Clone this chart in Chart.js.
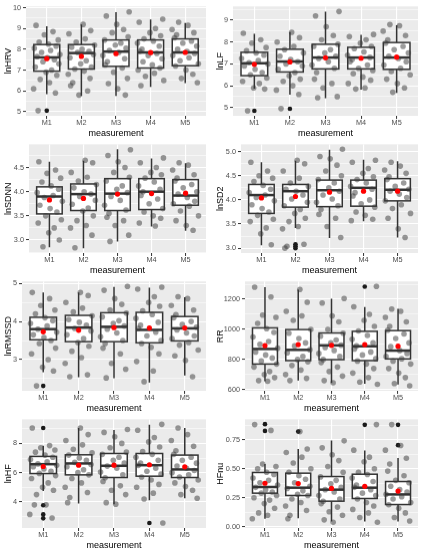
<!DOCTYPE html>
<html lang="en">
<head>
  <meta charset="UTF-8" />
  <title>HRV indices by measurement</title>
  <style>
    body { margin: 0; background: #fff; }
    #grid { display: grid; grid-template-columns: 212px 212px; grid-template-rows: repeat(4, 137.5px); width: 424px; height: 550px; }
    .panel { position: relative; width: 212px; height: 137.5px; }
  </style>
  <script src="https://cdn.jsdelivr.net/npm/chart.js"></script>
</head>
<body>
  <div id="grid">
    <div class="panel"><canvas id="c0"></canvas></div>
    <div class="panel"><canvas id="c1"></canvas></div>
    <div class="panel"><canvas id="c2"></canvas></div>
    <div class="panel"><canvas id="c3"></canvas></div>
    <div class="panel"><canvas id="c4"></canvas></div>
    <div class="panel"><canvas id="c5"></canvas></div>
    <div class="panel"><canvas id="c6"></canvas></div>
    <div class="panel"><canvas id="c7"></canvas></div>
  </div>

  <script>
    const CATS = ['M1', 'M2', 'M3', 'M4', 'M5'];
    // horizontal jitter offsets (in category units), reused per group
    const JIT = [-0.31, 0.18, -0.07, 0.33, -0.22, 0.05, 0.27, -0.36, 0.11, -0.15, 0.38, -0.28, 0.02,
                 0.22, -0.11, 0.35, -0.33, 0.14, -0.02, 0.29, -0.19, 0.08, -0.38, 0.25, -0.25];

    // box stats per group: [lower whisker, q1, median, q3, upper whisker]
    const HRV_TICKS = ['5', '6', '7', '8', '9', '10'];
    const HRV_STATS = [[5.84, 6.95, 7.61, 8.23, 9.11], [5.76, 7.05, 7.82, 8.23, 9.19], [5.76, 7.18, 7.89, 8.45, 9.79], [6.19, 7.1, 7.85, 8.45, 9.44], [6.37, 7.21, 7.85, 8.5, 9.27]];
    const HRV_MEAN = [7.55, 7.66, 7.79, 7.84, 7.85];
    const HRV_OUT = [[5.05], [], [], [], []];
    const HRV_PTS = [
      [9.15, 8.85, 8.7, 8.45, 8.35, 8.25, 8.15, 8.05, 7.95, 7.85, 7.75, 7.65, 7.6, 7.5, 7.4, 7.3, 7.15, 7.0, 6.9, 6.75, 6.55, 6.4, 6.1, 5.9, 5.05],
      [9.2, 8.9, 8.75, 8.5, 8.35, 8.2, 8.1, 8.0, 7.9, 7.85, 7.75, 7.6, 7.45, 7.3, 7.15, 7.05, 6.95, 6.8, 6.6, 6.4, 6.25, 6.0, 5.8],
      [9.8, 9.6, 9.2, 8.95, 8.8, 8.6, 8.45, 8.3, 8.2, 8.05, 7.95, 7.85, 7.7, 7.55, 7.4, 7.25, 7.1, 6.9, 6.6, 6.35, 6.1, 5.8],
      [9.45, 9.3, 9.0, 8.8, 8.65, 8.5, 8.4, 8.3, 8.15, 8.0, 7.9, 7.8, 7.7, 7.55, 7.4, 7.25, 7.1, 7.0, 6.85, 6.7, 6.5, 6.25],
      [9.3, 9.15, 8.95, 8.8, 8.7, 8.55, 8.4, 8.3, 8.15, 8.0, 7.9, 7.8, 7.7, 7.6, 7.45, 7.3, 7.2, 7.0, 6.8, 6.6, 6.4]
    ];

    const LF_TICKS = ['5', '6', '7', '8', '9'];
    const LF_STATS = [[5.87, 6.46, 7.03, 7.53, 8.38], [5.59, 6.63, 7.11, 7.67, 8.46], [5.43, 6.77, 7.29, 7.9, 9.39], [5.82, 6.77, 7.29, 7.76, 8.33], [5.67, 6.75, 7.29, 7.98, 8.77]];
    const LF_MEAN = [6.98, 7.09, 7.28, 7.26, 7.31];
    const LF_OUT = [[4.85], [4.94], [], [], []];
    const LF_PTS = [
      [8.4, 8.1, 7.95, 7.75, 7.6, 7.5, 7.4, 7.25, 7.15, 7.05, 7.0, 6.9, 6.75, 6.6, 6.5, 6.35, 6.2, 6.1, 5.9, 5.85, 4.85],
      [8.45, 8.2, 8.0, 7.8, 7.65, 7.5, 7.35, 7.2, 7.1, 7.0, 6.9, 6.75, 6.6, 6.45, 6.3, 6.2, 6.0, 5.8, 5.6, 4.95],
      [9.4, 9.2, 8.7, 8.3, 8.1, 7.9, 7.8, 7.65, 7.5, 7.35, 7.25, 7.1, 6.95, 6.8, 6.6, 6.3, 6.1, 5.9, 5.5, 5.45],
      [8.35, 8.25, 8.1, 7.95, 7.8, 7.7, 7.55, 7.4, 7.3, 7.2, 7.1, 6.95, 6.8, 6.7, 6.55, 6.4, 6.25, 6.1, 5.9, 5.85],
      [8.8, 8.75, 8.5, 8.3, 8.1, 7.95, 7.8, 7.65, 7.5, 7.35, 7.25, 7.1, 6.95, 6.8, 6.65, 6.5, 6.3, 6.1, 5.9, 5.7]
    ];

    const SDNN_TICKS = ['3.0', '3.5', '4.0', '4.5'];
    const SDNN_STATS = [[2.85, 3.54, 3.9, 4.1, 4.62], [2.83, 3.61, 3.95, 4.16, 4.64], [2.97, 3.61, 3.96, 4.27, 4.88], [3.28, 3.63, 4.0, 4.27, 4.69], [3.19, 3.72, 3.92, 4.25, 4.59]];
    const SDNN_MEAN = [3.83, 3.86, 3.95, 3.96, 3.97];
    const SDNN_OUT = [[], [], [], [], []];
    const SDNN_PTS = [
      [4.62, 4.45, 4.38, 4.28, 4.2, 4.12, 4.05, 3.98, 3.92, 3.88, 3.8, 3.72, 3.65, 3.58, 3.5, 3.42, 3.35, 3.25, 3.15, 3.0, 2.86],
      [4.65, 4.6, 4.4, 4.3, 4.22, 4.15, 4.08, 4.0, 3.95, 3.9, 3.82, 3.74, 3.66, 3.6, 3.5, 3.4, 3.3, 3.25, 3.1, 2.84],
      [4.87, 4.75, 4.62, 4.5, 4.4, 4.3, 4.22, 4.12, 4.05, 3.98, 3.9, 3.82, 3.72, 3.62, 3.55, 3.47, 3.4, 3.3, 3.1, 2.97],
      [4.7, 4.6, 4.5, 4.4, 4.35, 4.28, 4.2, 4.12, 4.05, 4.0, 3.92, 3.85, 3.75, 3.65, 3.58, 3.5, 3.45, 3.35, 3.29],
      [4.6, 4.55, 4.45, 4.35, 4.28, 4.22, 4.15, 4.08, 4.0, 3.95, 3.88, 3.8, 3.75, 3.7, 3.6, 3.5, 3.4, 3.3, 3.2]
    ];

    const SD2_TICKS = ['3.0', '3.5', '4.0', '4.5', '5.0'];
    const SD2_STATS = [[3.06, 3.72, 4.1, 4.32, 4.78], [3.42, 3.85, 4.18, 4.32, 4.81], [3.21, 3.86, 4.2, 4.41, 5.04], [3.56, 3.87, 4.25, 4.41, 4.83], [3.22, 3.98, 4.21, 4.44, 4.8]];
    const SD2_MEAN = [4.04, 4.07, 4.16, 4.18, 4.18];
    const SD2_OUT = [[], [3.08, 3.04, 3.0], [], [], []];
    const SD2_PTS = [
      [4.78, 4.6, 4.5, 4.45, 4.38, 4.3, 4.22, 4.15, 4.1, 4.05, 3.98, 3.9, 3.82, 3.75, 3.68, 3.6, 3.55, 3.42, 3.3, 3.07],
      [4.82, 4.75, 4.6, 4.45, 4.35, 4.28, 4.22, 4.18, 4.1, 4.02, 3.95, 3.88, 3.8, 3.72, 3.62, 3.55, 3.45, 3.4, 3.08, 3.04, 3.0],
      [5.05, 4.9, 4.85, 4.72, 4.6, 4.5, 4.42, 4.35, 4.25, 4.18, 4.1, 4.02, 3.95, 3.88, 3.8, 3.7, 3.62, 3.45, 3.22],
      [4.82, 4.78, 4.65, 4.55, 4.48, 4.42, 4.35, 4.28, 4.22, 4.15, 4.08, 4.0, 3.92, 3.85, 3.75, 3.68, 3.6, 3.57],
      [4.78, 4.7, 4.62, 4.55, 4.48, 4.42, 4.35, 4.28, 4.22, 4.18, 4.12, 4.05, 3.98, 3.9, 3.82, 3.72, 3.62, 3.4, 3.22]
    ];

    const RMSSD_TICKS = ['3', '4', '5'];
    const RMSSD_STATS = [[2.67, 3.52, 3.8, 4.11, 4.76], [2.54, 3.47, 3.84, 4.16, 4.76], [2.51, 3.47, 3.86, 4.23, 4.91], [2.4, 3.44, 3.78, 4.24, 4.89], [2.58, 3.49, 3.82, 4.13, 4.64]];
    const RMSSD_MEAN = [3.73, 3.77, 3.84, 3.83, 3.83];
    const RMSSD_OUT = [[2.31], [], [], [], []];
    const RMSSD_PTS = [
      [4.76, 4.6, 4.42, 4.3, 4.2, 4.1, 4.02, 3.95, 3.88, 3.8, 3.72, 3.65, 3.58, 3.5, 3.42, 3.3, 3.15, 3.0, 2.8, 2.7, 2.31],
      [4.76, 4.68, 4.5, 4.35, 4.25, 4.15, 4.05, 3.98, 3.9, 3.82, 3.75, 3.65, 3.55, 3.45, 3.35, 3.22, 3.05, 2.9, 2.6, 2.55],
      [4.92, 4.82, 4.6, 4.45, 4.3, 4.22, 4.12, 4.02, 3.95, 3.88, 3.8, 3.7, 3.6, 3.5, 3.42, 3.3, 3.15, 2.9, 2.75, 2.52],
      [4.9, 4.85, 4.65, 4.5, 4.4, 4.28, 4.18, 4.08, 3.98, 3.9, 3.82, 3.72, 3.62, 3.5, 3.42, 3.32, 3.15, 2.95, 2.7, 2.42],
      [4.65, 4.6, 4.42, 4.3, 4.18, 4.1, 4.0, 3.92, 3.85, 3.78, 3.7, 3.62, 3.55, 3.45, 3.38, 3.25, 3.1, 2.98, 2.55]
    ];

    const RR_TICKS = ['600', '800', '1000', '1200'];
    const RR_STATS = [[655, 770, 870, 1010, 1280], [660, 793, 864, 999, 1264], [644, 799, 894, 976, 1204], [638, 793, 888, 987, 1149], [633, 804, 859, 992, 1136]];
    const RR_MEAN = [892, 899, 894, 899, 888];
    const RR_OUT = [[], [], [], [1284], []];
    const RR_PTS = [
      [1280, 1215, 1095, 1080, 1040, 1005, 980, 950, 920, 900, 875, 850, 830, 810, 790, 770, 750, 720, 700, 680, 660, 655],
      [1265, 1180, 1120, 1090, 1060, 1000, 975, 940, 910, 890, 865, 845, 820, 800, 785, 760, 730, 700, 675, 660],
      [1205, 1175, 1090, 1050, 1000, 975, 955, 930, 910, 895, 880, 860, 840, 820, 800, 780, 750, 720, 690, 660, 645],
      [1285, 1150, 1100, 1060, 1020, 990, 960, 935, 910, 890, 870, 850, 830, 805, 790, 770, 740, 710, 680, 650, 635],
      [1135, 1120, 1080, 1050, 1020, 995, 970, 940, 910, 885, 860, 840, 820, 805, 790, 770, 740, 710, 680, 640, 625]
    ];

    const HF_TICKS = ['4', '6', '8'];
    const HF_STATS = [[4.75, 5.94, 6.58, 7.11, 7.84], [3.89, 5.85, 6.63, 7.22, 9.05], [3.84, 5.67, 6.47, 7.31, 8.91], [4.11, 5.76, 6.51, 7.31, 9.28], [4.25, 5.67, 6.22, 7.2, 9.05]];
    const HF_MEAN = [6.42, 6.51, 6.51, 6.54, 6.4];
    const HF_OUT = [[9.05, 3.77, 3.15, 2.88], [], [], [2.56], []];
    const HF_PTS = [
      [9.05, 7.85, 7.7, 7.55, 7.4, 7.2, 7.05, 6.9, 6.75, 6.6, 6.5, 6.4, 6.25, 6.1, 5.95, 5.8, 5.6, 5.3, 5.0, 4.8, 4.5, 3.8, 3.15, 2.9, 3.8],
      [9.05, 8.6, 8.2, 7.9, 7.6, 7.35, 7.2, 7.0, 6.85, 6.7, 6.55, 6.4, 6.2, 6.0, 5.85, 5.6, 5.3, 5.0, 4.65, 4.3, 3.95],
      [8.95, 8.75, 8.45, 8.0, 7.7, 7.4, 7.25, 7.05, 6.85, 6.65, 6.45, 6.3, 6.05, 5.85, 5.65, 5.4, 5.1, 4.8, 4.5, 3.95, 3.85],
      [9.3, 8.9, 8.4, 8.1, 7.75, 7.45, 7.25, 7.05, 6.85, 6.65, 6.5, 6.3, 6.1, 5.9, 5.7, 5.5, 5.2, 5.0, 4.6, 4.2, 2.56],
      [9.05, 8.6, 8.2, 7.8, 7.5, 7.25, 7.05, 6.85, 6.65, 6.45, 6.3, 6.15, 6.0, 5.85, 5.7, 5.5, 5.3, 5.05, 4.8, 4.5, 4.25]
    ];

    const HFNU_TICKS = ['0.00', '0.25', '0.50', '0.75'];
    const HFNU_STATS = [[0.07, 0.29, 0.343, 0.468, 0.54], [0.075, 0.27, 0.337, 0.462, 0.67], [0.047, 0.221, 0.32, 0.433, 0.744], [0.047, 0.244, 0.337, 0.453, 0.657], [0.047, 0.192, 0.279, 0.39, 0.593]];
    const HFNU_MEAN = [0.375, 0.372, 0.331, 0.349, 0.308];
    const HFNU_OUT = [[0.884, 0.826], [0.82], [], [0.878], [0.878, 0.703]];
    const HFNU_PTS = [
      [0.88, 0.83, 0.54, 0.52, 0.5, 0.47, 0.45, 0.42, 0.4, 0.38, 0.36, 0.34, 0.32, 0.3, 0.29, 0.27, 0.25, 0.23, 0.2, 0.16, 0.12, 0.1, 0.07],
      [0.82, 0.67, 0.64, 0.6, 0.55, 0.5, 0.47, 0.44, 0.41, 0.38, 0.35, 0.33, 0.31, 0.28, 0.27, 0.24, 0.21, 0.18, 0.14, 0.1, 0.07],
      [0.74, 0.68, 0.62, 0.57, 0.52, 0.47, 0.43, 0.4, 0.37, 0.34, 0.32, 0.3, 0.27, 0.24, 0.22, 0.2, 0.17, 0.13, 0.1, 0.06, 0.04],
      [0.88, 0.66, 0.6, 0.56, 0.5, 0.47, 0.45, 0.42, 0.39, 0.36, 0.34, 0.32, 0.29, 0.27, 0.24, 0.21, 0.18, 0.15, 0.12, 0.08, 0.04],
      [0.88, 0.7, 0.66, 0.59, 0.54, 0.48, 0.44, 0.4, 0.38, 0.35, 0.32, 0.3, 0.28, 0.26, 0.24, 0.21, 0.19, 0.16, 0.12, 0.08, 0.05]
    ];

    const PANELS = [
      { title: 'lnHRV', ticks: HRV_TICKS, min: 4.8, max: 10.06, yw: 26, stats: HRV_STATS, mean: HRV_MEAN, out: HRV_OUT, pts: HRV_PTS },
      { title: 'lnLF', ticks: LF_TICKS, min: 4.62, max: 9.63, yw: 21, stats: LF_STATS, mean: LF_MEAN, out: LF_OUT, pts: LF_PTS },
      { title: 'lnSDNN', ticks: SDNN_TICKS, min: 2.73, max: 4.98, yw: 29, stats: SDNN_STATS, mean: SDNN_MEAN, out: SDNN_OUT, pts: SDNN_PTS },
      { title: 'lnSD2', ticks: SD2_TICKS, min: 2.9, max: 5.15, yw: 29, stats: SD2_STATS, mean: SD2_MEAN, out: SD2_OUT, pts: SD2_PTS },
      { title: 'lnRMSSD', ticks: RMSSD_TICKS, min: 2.18, max: 5.05, yw: 22, stats: RMSSD_STATS, mean: RMSSD_MEAN, out: RMSSD_OUT, pts: RMSSD_PTS },
      { title: 'RR', ticks: RR_TICKS, min: 592, max: 1318, yw: 33, stats: RR_STATS, mean: RR_MEAN, out: RR_OUT, pts: RR_PTS },
      { title: 'lnHF', ticks: HF_TICKS, min: 2.22, max: 9.64, yw: 22, stats: HF_STATS, mean: HF_MEAN, out: HF_OUT, pts: HF_PTS },
      { title: 'HFnu', ticks: HFNU_TICKS, min: -0.01, max: 0.925, yw: 33, stats: HFNU_STATS, mean: HFNU_MEAN, out: HFNU_OUT, pts: HFNU_PTS }
    ];

    const FONT = "'Liberation Sans', Arial, sans-serif";

    // minor grid values halfway between the major ones (ggplot style)
    function minorTicks(major, min, max) {
      const step = major[1] - major[0];
      const res = [];
      for (let v = major[0] - step * 1.5; v <= max; v += step) {
        if (v >= min) res.push(+v.toFixed(4));
      }
      return res;
    }

    function boxPlugin(p) {
      return {
        id: 'boxes',
        beforeDraw(chart) {
          const a = chart.chartArea, ctx = chart.ctx;
          ctx.save();
          ctx.fillStyle = '#EBEBEB';
          ctx.fillRect(a.left, a.top, a.right - a.left, a.bottom - a.top);
          ctx.restore();
        },
        beforeDatasetsDraw(chart) {
          const ctx = chart.ctx, xs = chart.scales.x, ys = chart.scales.y;
          ctx.save();
          ctx.strokeStyle = '#333333';
          p.stats.forEach((s, i) => {
            const cx = xs.getPixelForValue(i + 1);
            const half = Math.abs(xs.getPixelForValue(i + 1.375) - cx);
            const [lo, q1, med, q3, hi] = s.map(v => ys.getPixelForValue(v));
            ctx.lineWidth = 1.5;
            ctx.beginPath();
            ctx.moveTo(cx, hi); ctx.lineTo(cx, q3);
            ctx.moveTo(cx, q1); ctx.lineTo(cx, lo);
            ctx.stroke();
            ctx.fillStyle = '#ffffff';
            ctx.fillRect(cx - half, q3, half * 2, q1 - q3);
            ctx.strokeRect(cx - half, q3, half * 2, q1 - q3);
            ctx.lineWidth = 2.5;
            ctx.beginPath();
            ctx.moveTo(cx - half, med); ctx.lineTo(cx + half, med);
            ctx.stroke();
          });
          ctx.restore();
        }
      };
    }

    PANELS.forEach((p, n) => {
      const majors = p.ticks.map(Number);
      const labelOf = new Map(majors.map((v, i) => [v, p.ticks[i]]));
      const yTicks = majors.concat(minorTicks(majors, p.min, p.max)).sort((a, b) => a - b);
      const isMajor = v => labelOf.has(v);

      const jitter = [], outliers = [], means = [];
      p.pts.forEach((grp, g) => {
        grp.forEach((v, k) => jitter.push({ x: g + 1 + JIT[(k + g * 5) % JIT.length], y: v }));
        p.out[g].forEach(v => outliers.push({ x: g + 1, y: v }));
        means.push({ x: g + 1, y: p.mean[g] });
      });

      new Chart(document.getElementById('c' + n), {
        type: 'scatter',
        data: {
          datasets: [
            { data: means, backgroundColor: '#FF0000', borderWidth: 0, pointRadius: 2.6, order: 0 },
            { data: jitter, backgroundColor: 'rgba(55,55,55,0.5)', borderWidth: 0, pointRadius: 2.8, order: 1 },
            { data: outliers, backgroundColor: '#1a1a1a', borderWidth: 0, pointRadius: 2.3, order: 2 }
          ]
        },
        options: {
          responsive: true,
          maintainAspectRatio: false,
          animation: false,
          events: [],
          layout: { padding: { top: 5, right: 6, bottom: 0, left: 0 } },
          plugins: { legend: { display: false }, tooltip: { enabled: false } },
          scales: {
            x: {
              type: 'linear',
              min: 0.4,
              max: 5.6,
              afterBuildTicks: s => { s.ticks = CATS.map((c, i) => ({ value: i + 1 })); },
              afterFit: s => { s.height = 22.5; },
              border: { display: false },
              grid: { color: '#ffffff', lineWidth: 1.1, tickLength: 3, tickColor: '#333333', tickWidth: 1 },
              ticks: {
                padding: 0,
                color: '#4d4d4d',
                font: { family: FONT, size: 7.3 },
                maxRotation: 0,
                autoSkip: false,
                callback: v => CATS[Math.round(v) - 1]
              },
              title: { display: true, text: 'measurement', color: '#000', font: { family: FONT, size: 9 }, padding: { top: 0, bottom: 0 } }
            },
            y: {
              min: p.min,
              max: p.max,
              afterBuildTicks: s => { s.ticks = yTicks.map(v => ({ value: v })); },
              afterFit: s => { s.width = p.yw; },
              border: { display: false },
              grid: {
                color: '#ffffff',
                lineWidth: c => (c.tick && isMajor(c.tick.value)) ? 1.1 : 0.55,
                tickLength: 3,
                tickWidth: 1,
                tickColor: c => (c.tick && isMajor(c.tick.value)) ? '#333333' : 'rgba(0,0,0,0)'
              },
              ticks: {
                padding: 2,
                color: '#4d4d4d',
                font: { family: FONT, size: 7.3 },
                autoSkip: false,
                callback: v => labelOf.has(v) ? labelOf.get(v) : ''
              },
              title: { display: true, text: p.title, color: '#000', font: { family: FONT, size: 9 }, padding: { top: 3, bottom: 0 } }
            }
          }
        },
        plugins: [boxPlugin(p)]
      });
    });
  </script>
</body>
</html>
